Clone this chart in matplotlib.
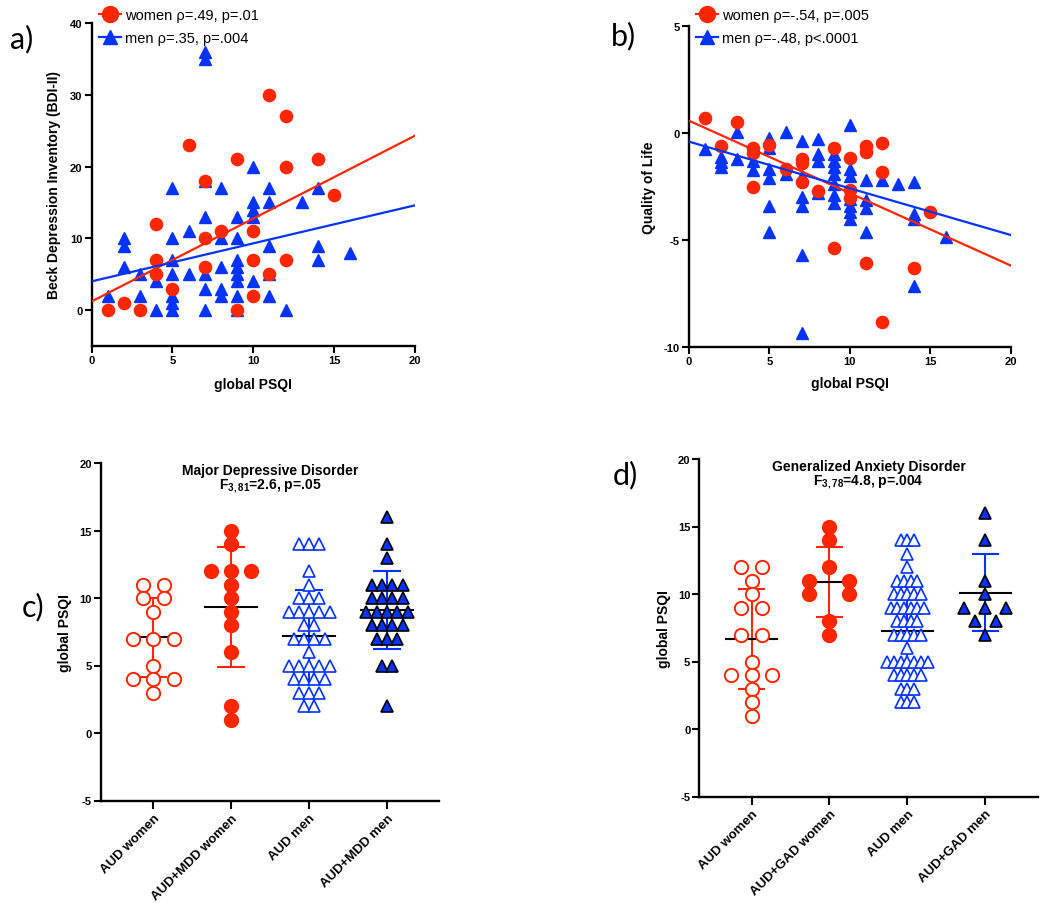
import matplotlib
matplotlib.use('Agg')
import matplotlib.pyplot as plt
import numpy as np
from matplotlib.lines import Line2D

plt.rcParams['font.family'] = ['Liberation Sans', 'DejaVu Sans']
plt.rcParams['mathtext.fontset'] = 'custom'
plt.rcParams['mathtext.rm'] = 'Liberation Sans'
plt.rcParams['mathtext.bf'] = 'Liberation Sans:bold'

RED = '#FF2600'
BLUE = '#0433FF'

# ---------------- data: panel a (BDI-II vs PSQI) ----------------
a_women_x = [1, 2, 3, 4, 4, 4, 5, 6, 7, 7, 7, 8, 9, 9, 10, 10, 10, 11, 11, 12, 12, 12, 14, 15]
a_women_y = [0, 1, 0, 12, 7, 5, 3, 23, 18, 10, 6, 11, 21, 0, 11, 7, 2, 30, 5, 27, 20, 7, 21, 16]
a_men_x = [1, 2, 2, 2, 3, 3, 4, 4, 5, 5, 5, 5, 5, 5, 5, 6, 6,
           7, 7, 7, 7, 7, 7, 7, 8, 8, 8, 8, 8, 9, 9, 9, 9, 9, 9, 9, 9,
           10, 10, 10, 10, 10, 11, 11, 11, 11, 11, 12, 13, 14, 14, 14, 16]
a_men_y = [2, 10, 9, 6, 5, 2, 4, 0, 17, 10, 7, 5, 2, 1, 0, 11, 5,
           36, 35, 18, 13, 5, 3, 0, 17, 10, 6, 3, 2, 13, 10, 7, 6, 5, 4, 2, 0,
           20, 15, 14, 13, 4, 17, 15, 9, 5, 2, 0, 15, 17, 9, 7, 8]
a_fit_x = [0, 20]
a_fit_women = [1.2, 24.3]
a_fit_men = [4.0, 14.6]
a_labels = ['women \u03c1=.49, p=.01', 'men \u03c1=.35, p=.004']

# ---------------- data: panel b (QoL vs PSQI) ----------------
b_women_x = [1, 2, 3, 4, 4, 4, 5, 6, 7, 7, 7, 8, 9, 9, 10, 10, 10, 11, 11, 11, 12, 12, 12, 14, 15]
b_women_y = [0.7, -0.6, 0.5, -0.7, -0.95, -2.5, -0.56, -1.7, -1.2, -1.4, -2.3, -2.7, -0.7, -5.4,
             -1.15, -2.65, -3.05, -0.6, -0.88, -6.1, -0.47, -1.8, -8.85, -6.3, -3.7]
b_men_x = [1, 2, 2, 2, 3, 3, 4, 4, 5, 5, 5, 5, 5, 5, 6, 6, 7, 7, 7, 7, 7, 7,
           8, 8, 8, 8, 9, 9, 9, 9, 9, 9, 9, 10, 10, 10, 10, 10, 10, 10,
           11, 11, 11, 11, 12, 13, 14, 14, 14, 14, 16]
b_men_y = [-0.75, -1.1, -1.35, -1.6, 0.05, -1.2, -1.3, -1.75, -0.25, -0.7, -1.7, -2.1, -3.4, -4.65,
           0.05, -1.9, -0.36, -2.0, -3.0, -3.4, -5.7, -9.35,
           -0.28, -1.0, -1.3, -2.8, -1.0, -1.3, -1.6, -1.9, -2.4, -2.9, -3.25,
           0.4, -1.7, -2.0, -3.1, -3.4, -3.7, -4.0,
           -2.2, -3.15, -3.5, -4.65, -2.2, -2.4, -2.3, -3.8, -4.0, -7.15, -4.85]
b_fit_x = [0, 20]
b_fit_women = [0.58, -6.2]
b_fit_men = [-0.4, -4.77]
b_labels = ['women \u03c1=-.54, p=.005', 'men \u03c1=-.48, p<.0001']

# ---------------- data: panel c (MDD groups) ----------------
c_categories = ['AUD women', 'AUD+MDD women', 'AUD men', 'AUD+MDD men']
c_aud_women = [11, 11, 10, 10, 9, 7, 7, 7, 5, 4, 4, 4, 3]
c_aud_mdd_women = [15, 14, 12, 12, 12, 11, 10, 9, 8, 6, 2, 1]
c_aud_men = [14, 14, 14, 12, 11, 10, 10, 10, 9, 9, 9, 9, 9, 8, 8, 7, 7, 7, 7, 6,
             5, 5, 5, 5, 5, 4, 4, 4, 4, 3, 3, 3, 2, 2]
c_aud_mdd_men = [16, 14, 13, 11, 11, 11, 11, 10, 10, 10, 10, 9, 9, 9, 9, 9,
                 8, 8, 8, 8, 7, 7, 7, 5, 5, 2]
c_means = [7.08, 9.33, 7.16, 9.12]
c_sds = [2.9, 4.42, 3.44, 2.88]

# ---------------- data: panel d (GAD groups) ----------------
d_categories = ['AUD women', 'AUD+GAD women', 'AUD men', 'AUD+GAD men']
d_aud_women = [12, 12, 11, 10, 9, 9, 7, 7, 5, 4, 4, 4, 3, 2, 1]
d_aud_gad_women = [15, 14, 12, 11, 11, 10, 10, 8, 7]
d_aud_men = [14, 14, 14, 13, 12, 11, 11, 11, 11, 10, 10, 10, 10, 10,
             9, 9, 9, 9, 9, 9, 8, 8, 8, 8, 7, 7, 7, 7, 7, 6,
             5, 5, 5, 5, 5, 5, 5, 4, 4, 4, 4, 4, 3, 3, 3, 2, 2, 2]
d_aud_gad_men = [16, 14, 11, 10, 9, 9, 9, 8, 8, 7]
d_means = [6.67, 10.89, 7.23, 10.1]
d_sds = [3.68, 2.57, 3.34, 2.85]

# ---------------- figure ----------------
W, H = 1050, 912
fig = plt.figure(figsize=(W / 100, H / 100), dpi=100)


def px_axes(l, r, t, b):
    return fig.add_axes([l / W, 1 - b / H, (r - l) / W, (b - t) / H])


def style(ax):
    for s in ['top', 'right']:
        ax.spines[s].set_visible(False)
    for s in ['left', 'bottom']:
        ax.spines[s].set_linewidth(1.7)
    ax.tick_params(width=1.5, length=5, pad=1.5, direction='out')


def set_ticks(ax, xt, yt, xlabels=None, xfs=8.0):
    ax.set_xticks(xt)
    ax.set_yticks(yt)
    ax.set_yticklabels([str(v) for v in yt], fontweight='bold', fontsize=8.0)
    if xlabels is None:
        ax.set_xticklabels([str(v) for v in xt], fontweight='bold', fontsize=xfs)
    else:
        ax.set_xticklabels(xlabels, fontweight='bold', fontsize=xfs, rotation=45,
                           ha='right', rotation_mode='anchor')


def legend(ax, labels, x_px, y_px):
    hs = [Line2D([], [], color=RED, marker='o', ms=11.5, lw=1.6),
          Line2D([], [], color=BLUE, marker='^', ms=10.5, lw=1.6)]
    ax.legend(hs, labels, loc='upper left', bbox_to_anchor=(x_px / W, 1 - y_px / H),
              bbox_transform=fig.transFigure, frameon=False, fontsize=10.5,
              handlelength=1.5, handletextpad=0.25, borderpad=0, borderaxespad=0,
              labelspacing=0.62)


# panel a
axa = px_axes(91.5, 415, 24, 347)
style(axa)
axa.plot(a_men_x, a_men_y, ls='none', marker='^', ms=8.2, color=BLUE, mec=BLUE, zorder=2)
axa.plot(a_women_x, a_women_y, ls='none', marker='o', ms=8.8, color=RED, mec=RED, zorder=3)
axa.plot(a_fit_x, a_fit_women, color=RED, lw=1.6, zorder=4)
axa.plot(a_fit_x, a_fit_men, color=BLUE, lw=1.6, zorder=4)
axa.set_xlim(0, 20)
axa.set_ylim(-5, 40)
set_ticks(axa, [0, 5, 10, 15, 20], [0, 10, 20, 30, 40])
axa.set_ylabel('Beck Depression Inventory (BDI-II)', fontsize=10, fontweight='bold')
axa.yaxis.set_label_coords(-0.094, 0.5)
axa.set_xlabel('global PSQI', fontsize=10, fontweight='bold')
axa.xaxis.set_label_coords(0.5, -0.095)
legend(axa, a_labels, 99, 9)

# panel b
axb = px_axes(689, 1010.7, 27.3, 347.7)
style(axb)
axb.plot(b_men_x, b_men_y, ls='none', marker='^', ms=8.2, color=BLUE, mec=BLUE, zorder=2)
axb.plot(b_women_x, b_women_y, ls='none', marker='o', ms=8.8, color=RED, mec=RED, zorder=3)
axb.plot(b_fit_x, b_fit_women, color=RED, lw=1.6, zorder=4)
axb.plot(b_fit_x, b_fit_men, color=BLUE, lw=1.6, zorder=4)
axb.set_xlim(0, 20)
axb.set_ylim(-10, 5)
set_ticks(axb, [0, 5, 10, 15, 20], [-10, -5, 0, 5])
axb.set_ylabel('Quality of Life', fontsize=10, fontweight='bold')
axb.yaxis.set_label_coords(-0.104, 0.5)
axb.set_xlabel('global PSQI', fontsize=10, fontweight='bold')
axb.xaxis.set_label_coords(0.5, -0.09)
legend(axb, b_labels, 696, 9)


def swarm(values, center, spacing):
    vals = np.asarray(values, dtype=float)
    xs = np.full(len(vals), float(center))
    for v in np.unique(vals):
        idx = np.where(vals == v)[0]
        n = len(idx)
        xs[idx] = center + (np.arange(n) - (n - 1) / 2) * spacing
    return xs


def group_panel(ax, groups, means, sds, cats, title, ftext):
    unit = 78.0  # px per category
    for i, (vals, marker, filled, color, sp_px) in enumerate(groups):
        xs = swarm(vals, i, sp_px / unit)
        m, s = means[i], sds[i]
        ax.plot([i, i], [m - s, m + s], color=color, lw=1.5, zorder=2)
        for yy in (m - s, m + s):
            ax.plot([i - 0.165, i + 0.165], [yy, yy], color=color, lw=1.5, zorder=2)
        ax.plot([i - 0.33, i + 0.33], [m, m], color='black', lw=1.5, zorder=2)
        if marker == 'o':
            ms, mew = 9.6, 1.4
        else:
            ms, mew = 8.0, 1.2
        if filled:
            fc = color
            ec = 'black' if marker == '^' else color
        else:
            fc = 'white'
            ec = color
        ax.plot(xs, vals, ls='none', marker=marker, ms=ms, mfc=fc, mec=ec, mew=mew, zorder=3)
    ax.set_xlim(-0.67, 3.67)
    ax.set_ylim(-5, 20)
    set_ticks(ax, [0, 1, 2, 3], [-5, 0, 5, 10, 15, 20], xlabels=cats, xfs=9.5)
    ax.tick_params(axis='x', length=6, pad=2)
    ax.set_ylabel('global PSQI', fontsize=10, fontweight='bold')
    ax.text(0.5, 0.98, title, transform=ax.transAxes, ha='center', va='center',
            fontsize=10, fontweight='bold')
    ax.text(0.5, 0.933, ftext, transform=ax.transAxes, ha='center', va='center',
            fontsize=10, fontweight='bold')


axc = px_axes(101, 439.3, 464, 801.5)
style(axc)
group_panel(axc,
            [(c_aud_women, 'o', False, RED, 20.7),
             (c_aud_mdd_women, 'o', True, RED, 20.0),
             (c_aud_men, '^', False, BLUE, 10.3),
             (c_aud_mdd_men, '^', True, BLUE, 10.3)],
            c_means, c_sds, c_categories, 'Major Depressive Disorder',
            r'$\mathbf{F_{3,81}}$=2.6, p=.05')
axc.yaxis.set_label_coords(-0.086, 0.5)

axd = px_axes(699.3, 1037.6, 460, 797.5)
style(axd)
group_panel(axd,
            [(d_aud_women, 'o', False, RED, 20.7),
             (d_aud_gad_women, 'o', True, RED, 40.0),
             (d_aud_men, '^', False, BLUE, 6.7),
             (d_aud_gad_men, '^', True, BLUE, 21.0)],
            d_means, d_sds, d_categories, 'Generalized Anxiety Disorder',
            r'$\mathbf{F_{3,78}}$=4.8, p=.004')
axd.yaxis.set_label_coords(-0.084, 0.5)

# panel letters
for txt, x, y in [('a)', 22, 39), ('b)', 623, 36), ('c)', 33, 607), ('d)', 625, 475)]:
    fig.text(x / W, 1 - y / H, txt, ha='center', va='center', fontsize=22,
             family=['Lato', 'DejaVu Sans'])

fig.savefig('out.png', dpi=100)
